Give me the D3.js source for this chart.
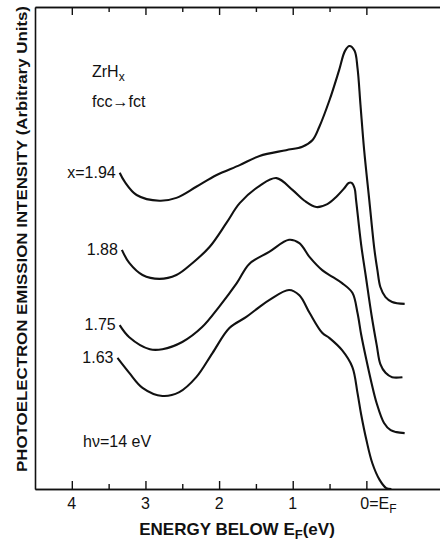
<!DOCTYPE html>
<html>
<head>
<meta charset="utf-8">
<script src="https://cdn.jsdelivr.net/npm/d3@7"></script>
<style>
body { margin: 0; background: #fff; }
</style>
</head>
<body>
<div id="chart"></div>
<script>
var width = 440,
    height = 541;

// energy below E_F (eV) and intensity (arbitrary units)
const seriesLabels = ["x=1.94", "1.88", "1.75", "1.63"];

const energy194 = [3.35, 3.28, 3.12, 2.81, 2.58, 2.31, 2.04, 1.72, 1.45, 1.09, 0.87, 0.73, 0.64, 0.50, 0.37, 0.29, 0.23, 0.16, 0.12, 0.08, 0.03, -0.04, -0.11, -0.15, -0.19, -0.26, -0.35, -0.52];
const int194 = [6.56, 6.37, 6.10, 5.98, 6.04, 6.27, 6.51, 6.72, 6.91, 7.03, 7.10, 7.24, 7.51, 8.07, 8.69, 9.09, 9.19, 9.09, 8.73, 7.97, 7.03, 5.99, 4.96, 4.54, 4.19, 3.98, 3.88, 3.84];

const energy188 = [3.32, 3.22, 3.04, 2.81, 2.58, 2.36, 2.13, 1.90, 1.72, 1.45, 1.22, 1.00, 0.84, 0.68, 0.53, 0.41, 0.30, 0.24, 0.20, 0.16, 0.14, 0.07, 0.01, -0.07, -0.14, -0.19, -0.26, -0.35, -0.49];
const int188 = [4.96, 4.69, 4.44, 4.36, 4.44, 4.69, 5.02, 5.52, 5.93, 6.29, 6.45, 6.20, 5.98, 5.85, 5.91, 6.06, 6.24, 6.35, 6.35, 6.24, 6.00, 5.06, 4.44, 3.61, 2.99, 2.59, 2.41, 2.32, 2.32];

const energy175 = [3.35, 3.22, 2.94, 2.77, 2.50, 2.23, 2.00, 1.76, 1.59, 1.32, 1.05, 0.91, 0.77, 0.60, 0.46, 0.33, 0.19, 0.12, 0.07, 0.00, -0.07, -0.14, -0.24, -0.33, -0.41, -0.52];
const int175 = [3.40, 3.15, 2.90, 2.90, 3.05, 3.36, 3.78, 4.27, 4.67, 4.92, 5.17, 5.10, 4.81, 4.54, 4.40, 4.27, 4.07, 3.65, 3.20, 2.68, 2.20, 1.78, 1.37, 1.22, 1.18, 1.16];

const energy163 = [3.38, 3.22, 3.04, 2.77, 2.54, 2.31, 2.09, 1.86, 1.63, 1.45, 1.32, 1.05, 0.91, 0.77, 0.60, 0.50, 0.33, 0.19, 0.12, 0.07, 0.00, -0.08, -0.18, -0.27, -0.34];
const int163 = [2.72, 2.41, 2.10, 1.93, 2.01, 2.32, 2.82, 3.34, 3.57, 3.78, 3.92, 4.13, 4.02, 3.65, 3.24, 3.13, 2.88, 2.53, 1.99, 1.54, 1.02, 0.54, 0.19, 0.02, 0.00];

const majorTicks = [4, 3, 2, 1, 0];
const minorTicks = [3.5, 2.5, 1.5, 0.5];
const tickLabels = ["4", "3", "2", "1"];

const energies = [energy194, energy188, energy175, energy163];
const intensities = [int194, int188, int175, int163];

const fontName = "'Liberation Sans', Arial, sans-serif";

var svg = d3.select("#chart").append("svg")
    .attr("width", width)
    .attr("height", height);

svg.append("rect")
    .attr("width", width)
    .attr("height", height)
    .attr("fill", "#fff");

let xScale = d3.scaleLinear()
    .domain([4.5, -1])
    .range([35, 440]);
let yScale = d3.scaleLinear()
    .domain([0, 10])
    .range([489, 7]);

function styleAxis(g) {
    g.select(".domain").attr("stroke", "#111").attr("stroke-width", 1.6);
    g.selectAll(".tick line").attr("stroke", "#111").attr("stroke-width", 1.4);
}

// bottom axis, ticks pointing in
svg.append("g")
    .attr("transform", "translate(0," + yScale(0) + ")")
    .call(d3.axisBottom(xScale).tickValues(majorTicks).tickSize(-8).tickSizeOuter(0).tickFormat(""))
    .call(styleAxis);
svg.append("g")
    .attr("transform", "translate(0," + yScale(0) + ")")
    .call(d3.axisBottom(xScale).tickValues(minorTicks).tickSize(-5).tickSizeOuter(0).tickFormat(""))
    .call(styleAxis);

svg.append("g")
    .selectAll("text")
    .data(tickLabels)
    .join("text")
    .attr("x", function (d) { return xScale(+d); })
    .attr("y", yScale(0) + 20)
    .attr("text-anchor", "middle")
    .attr("font-family", fontName)
    .attr("font-size", 16)
    .attr("fill", "#111")
    .text(function (d) { return d; });

// top axis
svg.append("g")
    .attr("transform", "translate(0," + yScale(10) + ")")
    .call(d3.axisTop(xScale).tickValues(majorTicks).tickSize(-8).tickSizeOuter(0).tickFormat(""))
    .call(styleAxis);
svg.append("g")
    .attr("transform", "translate(0," + yScale(10) + ")")
    .call(d3.axisTop(xScale).tickValues(minorTicks).tickSize(-5).tickSizeOuter(0).tickFormat(""))
    .call(styleAxis);

// left axis, no ticks
svg.append("g")
    .attr("transform", "translate(" + xScale(4.5) + ",0)")
    .call(d3.axisLeft(yScale).tickValues([]).tickSizeOuter(0))
    .call(styleAxis);

// 0=E_F label
let efLabel = svg.append("text")
    .attr("x", xScale(0) - 6)
    .attr("y", yScale(0) + 20)
    .attr("font-family", fontName)
    .attr("font-size", 16)
    .attr("fill", "#111");
efLabel.append("tspan").text("0=E");
efLabel.append("tspan").attr("font-size", 12).attr("dy", 4).text("F");

// axis titles
let xTitle = svg.append("text")
    .attr("x", 237)
    .attr("y", 535)
    .attr("text-anchor", "middle")
    .attr("font-family", fontName)
    .attr("font-weight", "bold")
    .attr("font-size", 17)
    .attr("fill", "#111");
xTitle.append("tspan").text("ENERGY BELOW E");
xTitle.append("tspan").attr("font-size", 13).attr("dy", 4).text("F");
xTitle.append("tspan").attr("dy", -4).text("(eV)");

svg.append("text")
    .attr("transform", "translate(27,239) rotate(-90)")
    .attr("text-anchor", "middle")
    .attr("font-family", fontName)
    .attr("font-weight", "bold")
    .attr("font-size", 14.5)
    .attr("textLength", 466)
    .attr("lengthAdjust", "spacingAndGlyphs")
    .attr("fill", "#111")
    .text("PHOTOELECTRON EMISSION INTENSITY (Arbitrary Units)");

// annotations
let zr = svg.append("text")
    .attr("x", 92)
    .attr("y", 77)
    .attr("font-family", fontName)
    .attr("font-size", 16)
    .attr("fill", "#111");
zr.append("tspan").text("ZrH");
zr.append("tspan").attr("font-size", 12).attr("dy", 4).text("x");

svg.append("text")
    .attr("x", 92)
    .attr("y", 107)
    .attr("font-family", fontName)
    .attr("font-size", 16)
    .attr("fill", "#111")
    .text("fcc\u2192fct");

svg.append("text")
    .attr("x", 83)
    .attr("y", 447)
    .attr("font-family", fontName)
    .attr("font-size", 16)
    .attr("fill", "#111")
    .text("h\u03bd=14 eV");

// spectra
var line_generator = d3.line()
    .x(function (d) { return xScale(d[0]); })
    .y(function (d) { return yScale(d[1]); })
    .curve(d3.curveCatmullRom.alpha(0.5));

for (let i in energies) {
    let pts = d3.zip(energies[i], intensities[i]);
    svg.append("path")
        .attr("d", line_generator(pts))
        .attr("fill", "none")
        .attr("stroke", "#111")
        .attr("stroke-width", 2.1)
        .attr("stroke-linejoin", "round");
    svg.append("text")
        .attr("x", xScale(pts[0][0]) - 4)
        .attr("y", yScale(pts[0][1]) + 5)
        .attr("text-anchor", "end")
        .attr("font-family", fontName)
        .attr("font-size", 16)
        .attr("fill", "#111")
        .text(seriesLabels[i]);
}
</script>
</body>
</html>
